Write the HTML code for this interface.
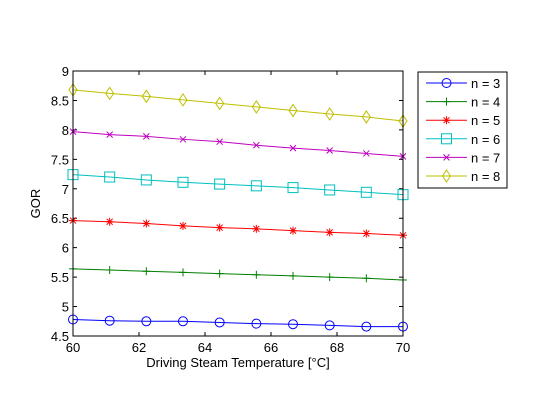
<!DOCTYPE html>
<html><head><meta charset="utf-8"><style>
body{margin:0;background:#fff}
svg{display:block;font-family:"Liberation Sans",sans-serif}
</style></head><body>
<svg id="chart" width="560" height="420">
<rect width="560" height="420" fill="#fff"/>
</svg>
<script>
const xValues=[60,61.111,62.222,63.333,64.444,65.556,66.667,67.778,68.889,70];
const seriesNames=["n = 3","n = 4","n = 5","n = 6","n = 7","n = 8"];
const n3=[4.78,4.76,4.75,4.75,4.73,4.71,4.70,4.68,4.66,4.66];
const n4=[5.64,5.62,5.60,5.58,5.56,5.54,5.52,5.50,5.48,5.45];
const n5=[6.46,6.44,6.41,6.37,6.34,6.32,6.29,6.26,6.24,6.21];
const n6=[7.24,7.20,7.15,7.11,7.08,7.05,7.02,6.98,6.94,6.90];
const n7=[7.97,7.92,7.89,7.84,7.80,7.74,7.69,7.65,7.60,7.55];
const n8=[8.68,8.62,8.57,8.51,8.45,8.39,8.33,8.27,8.22,8.15];
const xTicks=[60,62,64,66,68,70];
const yTicks=[4.5,5,5.5,6,6.5,7,7.5,8,8.5,9];
const yTickLabels=["4.5","5","5.5","6","6.5","7","7.5","8","8.5","9"];
const series=[n3,n4,n5,n6,n7,n8];
const colors=["#0000ff","#008000","#ff0000","#00bfbf","#bf00bf","#bfbf00"];
const markers=["circle","plus","star","square","x","diamond"];
const L=73,R=403,T=71,B=336;
const sx=v=>L+(v-60)/10*(R-L);
const sy=v=>B-(v-4.5)/4.5*(B-T);
const svg=document.getElementById('chart');
const NS="http://www.w3.org/2000/svg";
function mk(tag,attrs,parent){const e=document.createElementNS(NS,tag);for(const k in attrs)e.setAttribute(k,attrs[k]);(parent||svg).appendChild(e);return e;}
function marker(type,x,y,c,g){
  const s={stroke:c,fill:"none","stroke-width":1};
  if(type==="circle")mk("circle",{cx:x,cy:y,r:4.5,...s},g);
  else if(type==="plus"){mk("path",{d:`M${x-4} ${y}H${x+4}M${x} ${y-4}V${y+4}`,...s},g);}
  else if(type==="star"){mk("path",{d:`M${x-4} ${y}H${x+4}M${x} ${y-4}V${y+4}M${x-3} ${y-3}L${x+3} ${y+3}M${x-3} ${y+3}L${x+3} ${y-3}`,...s},g);}
  else if(type==="square")mk("rect",{x:x-5,y:y-5,width:10,height:10,...s},g);
  else if(type==="x"){mk("path",{d:`M${x-3} ${y-3}L${x+3} ${y+3}M${x-3} ${y+3}L${x+3} ${y-3}`,...s},g);}
  else if(type==="diamond")mk("path",{d:`M${x} ${y-6}L${x+4} ${y}L${x} ${y+6}L${x-4} ${y}Z`,...s},g);
}
const plot=mk("rect",{x:L,y:T,width:R-L,height:B-T,fill:"#fff",stroke:"none"});


xTicks.forEach(t=>{const x=sx(t);
  mk("path",{d:`M${x} ${B}V${B-4}M${x} ${T}V${T+4}`,stroke:"#000"});
  const tx=mk("text",{x:x,y:B+16,"font-size":13,"text-anchor":"middle"});tx.textContent=t;
  
  
});
yTicks.forEach((t,i)=>{const y=sy(t);
  mk("path",{d:`M${L} ${y}H${L+4}M${R} ${y}H${R-4}`,stroke:"#000"});
  const tx=mk("text",{x:L-4,y:y+5,"font-size":13,"text-anchor":"end"});tx.textContent=yTickLabels[i];
  
  
});
series.forEach((d,i)=>{
  const g=mk("g",{});
  
  
  mk("polyline",{points:d.map((v,j)=>sx(xValues[j])+","+sy(v)).join(" "),fill:"none",stroke:colors[i],"stroke-width":1},g);
  d.forEach((v,j)=>marker(markers[i],sx(xValues[j]),sy(v),colors[i],g));
});
const frame=mk("rect",{x:L,y:T,width:R-L,height:B-T,fill:"none",stroke:"#000"});


const xt=mk("text",{x:(L+R)/2,y:367,"font-size":13,"text-anchor":"middle"});xt.textContent="Driving Steam Temperature [°C]";


const yt=mk("text",{x:0,y:0,"font-size":13,"text-anchor":"middle",transform:`translate(40 ${(T+B)/2}) rotate(-90)`});yt.textContent="GOR";


const lg=mk("g",{});


mk("rect",{x:418,y:72,width:89,height:116,fill:"#fff",stroke:"#000"},lg);
seriesNames.forEach((nm,i)=>{
  const y=83+i*18.6;
  const e=mk("g",{},lg);
  
  
  mk("line",{x1:426,x2:467,y1:y,y2:y,stroke:colors[i]},e);
  marker(markers[i],446.5,y,colors[i],e);
  const t=mk("text",{x:471,y:y+5,"font-size":13},e);t.textContent=nm;
});
</script>
</body></html>
